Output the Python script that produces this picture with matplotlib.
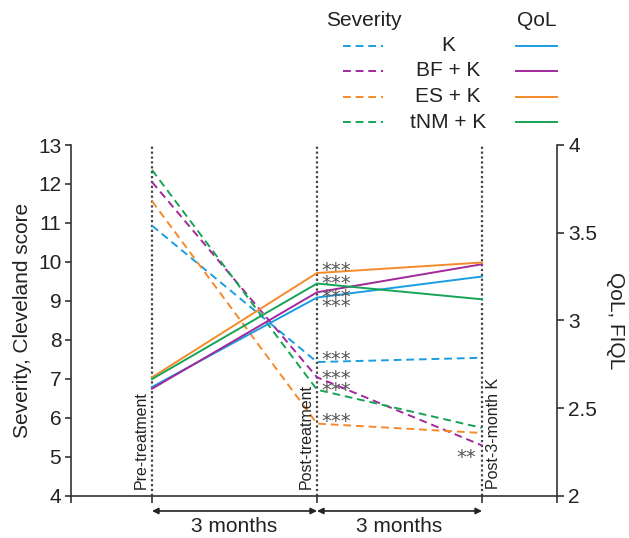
import matplotlib
matplotlib.use("Agg")
import matplotlib.pyplot as plt
from matplotlib.lines import Line2D
from matplotlib.transforms import blended_transform_factory

plt.rcParams['font.family'] = ['Liberation Sans', 'DejaVu Sans']

# --- data ---
groups = ["K", "BF + K", "ES + K", "tNM + K"]
colors = ["#1b9de0", "#a2299c", "#f58a2a", "#15a456"]
timepoints = ["Pre-treatment", "Post-treatment", "Post-3-month K"]
x_pos = [0, 1, 2]

severity = {
    "K":       [10.93, 7.43, 7.54],
    "BF + K":  [12.05, 7.04, 5.29],
    "ES + K":  [11.56, 5.85, 5.61],
    "tNM + K": [12.36, 6.72, 5.74],
}
qol = {
    "K":       [2.62, 3.13, 3.25],
    "BF + K":  [2.61, 3.16, 3.32],
    "ES + K":  [2.675, 3.27, 3.33],
    "tNM + K": [2.665, 3.21, 3.12],
}

# significance marks
qol_stars_y = [3.318, 3.244, 3.164, 3.116]
sev_stars_y = [7.66, 7.18, 6.87, 6.07]
post3_star_y = 5.15

left_ticks = list(range(4, 14))
right_ticks = [2, 2.5, 3, 3.5, 4]
right_tick_labels = ["2", "2.5", "3", "3.5", "4"]

W, H = 629, 538
fig = plt.figure(figsize=(W / 100, H / 100), dpi=100)
ax = fig.add_axes([71 / W, 42.3 / H, 486 / W, 350.7 / H])
ax2 = ax.twinx()

xlim = (-0.491, 2.4545)
ax.set_xlim(*xlim)
ax.set_ylim(4, 13)
ax2.set_ylim(2, 4)

spine_c = "#333333"
for a in (ax, ax2):
    a.spines['top'].set_visible(False)
    for s in a.spines.values():
        s.set_color(spine_c)
        s.set_linewidth(1.2)
ax2.spines['left'].set_visible(False)
ax2.spines['bottom'].set_visible(False)
ax.spines['right'].set_visible(False)

ax.set_xticks([xlim[0]] + x_pos + [xlim[1]])
ax.set_xticklabels([])
ax.tick_params(axis='x', direction='out', length=5, width=1.2, color=spine_c)
ax.set_yticks(left_ticks)
ax.tick_params(axis='y', direction='out', length=4, width=1.2, color=spine_c,
               labelsize=15, labelcolor="#222222", pad=3)
ax2.set_yticks(right_ticks)
ax2.set_yticklabels(right_tick_labels)
ax2.tick_params(axis='y', direction='out', length=5, width=1.2, color=spine_c,
                labelsize=15, labelcolor="#222222", pad=3)

ax.set_ylabel("Severity, Cleveland score", fontsize=15, color="#222222", labelpad=4)
ax2.set_ylabel("QoL, FIQL", fontsize=15, color="#222222", rotation=-90, labelpad=20)

# vertical dotted guides
for xp in x_pos:
    ax.axvline(xp, color="#444444", lw=1.6, ls=(0, (1, 1.2)), zorder=1)

# lines
dash = (0, (4, 2.5))
for g, c in zip(groups, colors):
    ax.plot(x_pos, severity[g], color=c, lw=1.4, ls=dash, zorder=3)
    ax2.plot(x_pos, qol[g], color=c, lw=1.4, zorder=3)

# timepoint labels (vertical)
trans = blended_transform_factory(ax.transData, ax.transAxes)
for xp, lab in zip(x_pos, timepoints):
    if xp < 2:
        ax.text(xp - 0.02, 0.02, lab, transform=trans, rotation=90, ha='right',
                va='bottom', fontsize=11.5, color="#222222")
    else:
        ax.text(xp + 0.025, 0.02, lab, transform=trans, rotation=90, ha='left',
                va='bottom', fontsize=11.5, color="#222222")

# significance asterisks
star_kw = dict(fontsize=14, color="#555555", family="DejaVu Sans", textcoords="offset points",
               va="baseline", annotation_clip=False)
for yv in qol_stars_y:
    ax2.annotate("***", (1, yv), xytext=(3, -8.5), ha='left', **star_kw)
for yv in sev_stars_y:
    ax.annotate("***", (1, yv), xytext=(3, -8.5), ha='left', **star_kw)
ax.annotate("**", (2, post3_star_y), xytext=(-4, -8.5), ha='right', **star_kw)

# interval arrows
for a0, a1 in [(0, 1), (1, 2)]:
    ax.annotate("", xy=(a1, -0.0436), xytext=(a0, -0.0436), xycoords=trans, textcoords=trans,
                arrowprops=dict(arrowstyle='<|-|>', lw=1.2, color="#222222",
                                mutation_scale=9, shrinkA=0, shrinkB=0),
                annotation_clip=False)
    ax.text((a0 + a1) / 2, -0.088, "3 months", transform=trans, ha='center', va='center',
            fontsize=15, color="#222222")

# legend drawn by hand: severity (dashed) | group | QoL (solid)
def fy(py):
    return 1 - py / H

fig.text(364 / W, fy(21), "Severity", ha='center', va='center', fontsize=15, color="#222222")
fig.text(537 / W, fy(21), "QoL", ha='center', va='center', fontsize=15, color="#222222")
row_y = [46, 71, 97, 122]
for g, c, py in zip(groups, colors, row_y):
    fig.add_artist(Line2D([343 / W, 383 / W], [fy(py), fy(py)], color=c, lw=1.4, ls=dash))
    fig.add_artist(Line2D([516 / W, 557 / W], [fy(py), fy(py)], color=c, lw=1.4))
    fig.text(448 / W, fy(py), g, ha='center', va='center', fontsize=15, color="#222222")

fig.savefig("out.png", dpi=100)
